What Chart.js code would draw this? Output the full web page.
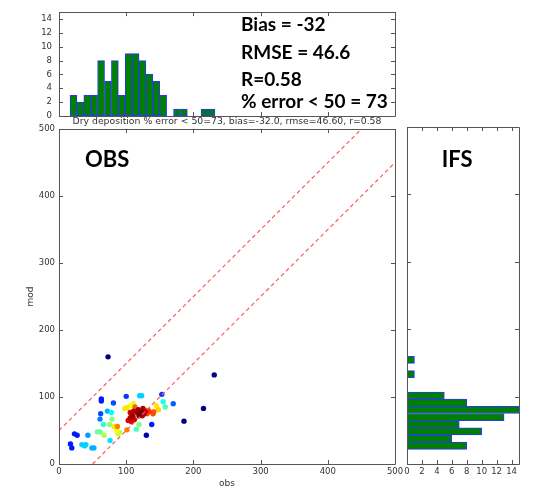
<!DOCTYPE html>
<html>
<head>
<meta charset="utf-8">
<script src="https://cdn.jsdelivr.net/npm/chart.js@4.4.1/dist/chart.umd.min.js"></script>
<style>
  html, body { margin: 0; padding: 0; background: #fff; }
  body { width: 539px; height: 493px; position: relative; overflow: hidden; }
  canvas { position: absolute; }
  #top  { left: 0; top: 0; }
  #main { left: 0; top: 120px; }
  #side { left: 400px; top: 120px; }
</style>
</head>
<body>
<canvas id="top" width="454" height="130"></canvas>
<canvas id="main" width="454" height="373"></canvas>
<canvas id="side" width="139" height="373"></canvas>
<script>
// Station values: observed vs modelled dry deposition, with point density (0..1)
const obs = [73, 231, 215, 186, 130, 100, 120, 123, 153, 170, 155, 158, 63, 63, 81, 62, 61, 72, 78, 79,
             66, 75, 82, 87, 57, 61, 67, 86, 88, 90, 101, 115, 119, 76, 23, 27, 43, 34, 38, 40,
             49, 52, 17, 19, 145, 148, 141, 133, 131, 140, 98, 101, 106, 111, 113, 106, 108, 111, 116, 118,
             121, 123, 125, 127, 124, 119, 110, 106, 103, 108, 112, 129, 134, 138];
const mod = [160, 133, 83, 64, 43, 101, 102, 102, 104, 90, 93, 85, 97, 94, 91, 75, 67, 79, 77, 67,
             59, 59, 56, 56, 48, 48, 43, 50, 45, 47, 51, 52, 59, 35, 45, 43, 43, 29, 27, 29,
             24, 24, 30, 24, 87, 81, 78, 80, 75, 75, 83, 84, 87, 90, 85, 77, 75, 79, 77, 81,
             75, 78, 83, 75, 72, 72, 71, 69, 65, 63, 66, 79, 78, 59];
const density = [0.0, 0.0, 0.0, 0.0, 0.05, 0.18, 0.33, 0.33, 0.18, 0.22, 0.4, 0.45, 0.15, 0.15, 0.2, 0.2, 0.25, 0.3, 0.38, 0.5,
                 0.42, 0.52, 0.65, 0.75, 0.48, 0.48, 0.55, 0.62, 0.58, 0.55, 0.75, 0.45, 0.5, 0.35, 0.15, 0.15, 0.28, 0.33, 0.33, 0.33,
                 0.3, 0.3, 0.15, 0.15, 0.65, 0.67, 0.78, 0.8, 0.8, 0.8, 0.65, 0.65, 0.62, 0.6, 0.78, 0.92, 0.95, 0.95, 0.97, 0.97,
                 1.0, 1.0, 0.95, 0.95, 0.95, 1.0, 0.97, 0.95, 0.9, 0.9, 0.92, 0.92, 0.82, 0.15];

// Histogram of obs (top panel)
const obsBinStart = 16.4;
const obsBinWidth = 10.27;
const obsCounts = [3, 2, 3, 3, 8, 5, 8, 3, 9, 9, 8, 6, 5, 3, 0, 1, 1, 0, 0, 1, 1];

// Histogram of mod (side panel)
const modBinStart = 21.8;
const modBinWidth = 10.62;
const modCounts = [8, 6, 10, 7, 13, 15, 8, 5, 0, 0, 1, 0, 1];

// Axis ranges and ticks
const valueRange = [0, 500];
const valueStep = 100;
const countRange = [0, 15];
const countStep = 2;

// +/- 50 error envelope
const errorBand = 50;

// Text
const titleText = 'Dry deposition % error < 50=73, bias=-32.0, rmse=46.60, r=0.58';
const statLines = ['Bias = -32', 'RMSE = 46.6', 'R=0.58', '% error < 50 = 73'];
const obsName = 'OBS';
const modName = 'IFS';

Chart.defaults.font.family = "'DejaVu Sans', sans-serif";
Chart.defaults.color = '#333';
Chart.defaults.borderColor = 'rgba(0,0,0,0)';
Chart.defaults.animation = false;

const TICK_FONT = { size: 8.5 };
const LABEL_FONT = { size: 9 };
const BAR_GREEN = '#008000';
const BAR_EDGE = '#2a35ff';
const FRAME = '#555';

function jet(v) {
  const c = x => Math.max(0, Math.min(1, x));
  const r = c(1.5 - Math.abs(4 * v - 3));
  const g = c(1.5 - Math.abs(4 * v - 2));
  const b = c(1.5 - Math.abs(4 * v - 1));
  return `rgb(${Math.round(r * 255)},${Math.round(g * 255)},${Math.round(b * 255)})`;
}

// Frame around the plot area with inward tick marks on all four sides
const frameTicks = {
  id: 'frameTicks',
  afterDatasetsDraw(chart) {
    const { ctx, chartArea: a, scales } = chart;
    const L = 4;
    ctx.save();
    ctx.setLineDash([]);
    ctx.strokeStyle = FRAME;
    ctx.lineWidth = 1;
    ctx.beginPath();
    scales.x.ticks.forEach(t => {
      const px = Math.round(scales.x.getPixelForValue(t.value)) + 0.5;
      ctx.moveTo(px, a.bottom); ctx.lineTo(px, a.bottom - L);
      ctx.moveTo(px, a.top); ctx.lineTo(px, a.top + L);
    });
    scales.y.ticks.forEach(t => {
      const py = Math.round(scales.y.getPixelForValue(t.value)) + 0.5;
      ctx.moveTo(a.left, py); ctx.lineTo(a.left + L, py);
      ctx.moveTo(a.right, py); ctx.lineTo(a.right - L, py);
    });
    ctx.stroke();
    ctx.beginPath();
    ctx.rect(Math.round(a.left) + 0.5, Math.round(a.top) + 0.5,
             Math.round(a.right - a.left), Math.round(a.bottom - a.top));
    ctx.stroke();
    ctx.restore();
  }
};

// Title under the obs histogram and the summary statistics inside it
const topText = {
  id: 'topText',
  afterDraw(chart) {
    const { ctx, chartArea: a } = chart;
    ctx.save();
    ctx.fillStyle = '#333';
    ctx.font = "9.3px 'DejaVu Sans', sans-serif";
    ctx.textAlign = 'center';
    ctx.textBaseline = 'middle';
    ctx.fillText(titleText, (a.left + a.right) / 2, a.bottom + 5.5);
    ctx.fillStyle = '#000';
    ctx.font = "bold 19px Lato, sans-serif";
    ctx.textAlign = 'left';
    ctx.textBaseline = 'alphabetic';
    const baselines = [31, 58.7, 86, 108.3];
    statLines.forEach((s, i) => ctx.fillText(s, 241, baselines[i]));
    ctx.restore();
  }
};

function panelName(text, x, y) {
  return {
    id: 'panelName',
    afterDraw(chart) {
      const { ctx } = chart;
      ctx.save();
      ctx.fillStyle = '#000';
      ctx.font = "bold 22px Lato, sans-serif";
      ctx.textAlign = 'left';
      ctx.textBaseline = 'alphabetic';
      ctx.fillText(text, x, y);
      ctx.restore();
    }
  };
}

const noGrid = { display: false, drawTicks: false, drawOnChartArea: false };
const noBorder = { display: false };

// ---- top panel: histogram of obs ----
const obsBars = obsCounts
  .map((c, i) => ({ x: obsBinStart + (i + 0.5) * obsBinWidth, y: c }))
  .filter(p => p.y > 0);

new Chart(document.getElementById('top'), {
  type: 'bar',
  data: {
    datasets: [{
      data: obsBars,
      backgroundColor: BAR_GREEN,
      borderColor: BAR_EDGE,
      borderWidth: 1,
      borderSkipped: false,
      barPercentage: 1,
      categoryPercentage: 1
    }]
  },
  options: {
    responsive: false,
    layout: { padding: { top: 4, right: 59, left: 0, bottom: 0 } },
    plugins: { legend: { display: false }, tooltip: { enabled: false } },
    scales: {
      x: {
        type: 'linear', offset: false, min: valueRange[0], max: valueRange[1],
        ticks: { display: false, stepSize: valueStep },
        grid: noGrid, border: noBorder,
        afterFit: s => { s.height = 14; }
      },
      y: {
        type: 'linear', min: countRange[0], max: countRange[1],
        ticks: { stepSize: countStep, includeBounds: false, padding: 7, font: TICK_FONT },
        grid: noGrid, border: noBorder,
        afterFit: s => { s.width = 59; }
      }
    }
  },
  plugins: [frameTicks, topText]
});

// ---- main panel: scatter of mod vs obs ----
const order = obs.map((_, i) => i).sort((p, q) => density[p] - density[q]);
const points = order.map(i => ({ x: obs[i], y: mod[i] }));
const pointColors = order.map(i => jet(density[i]));

const upperLine = [{ x: valueRange[0], y: valueRange[0] + errorBand }, { x: valueRange[1] - errorBand, y: valueRange[1] }];
const lowerLine = [{ x: valueRange[0] + errorBand, y: valueRange[0] }, { x: valueRange[1], y: valueRange[1] - errorBand }];

const dashStyle = {
  type: 'line', pointRadius: 0, borderWidth: 1.2, tension: 0,
  borderColor: '#ff5c5c', borderDash: [4, 3], fill: false
};

new Chart(document.getElementById('main'), {
  type: 'scatter',
  data: {
    datasets: [
      Object.assign({ data: upperLine }, dashStyle),
      Object.assign({ data: lowerLine }, dashStyle),
      { type: 'scatter', data: points, showLine: false, pointRadius: 2.7, pointBorderWidth: 0,
        pointBorderColor: 'rgba(0,0,0,0)', pointBackgroundColor: pointColors }
    ]
  },
  options: {
    responsive: false,
    layout: { padding: { top: 7, right: 59, left: 0, bottom: 0 } },
    plugins: { legend: { display: false }, tooltip: { enabled: false } },
    scales: {
      x: {
        type: 'linear', min: valueRange[0], max: valueRange[1],
        ticks: { stepSize: valueStep, padding: 3, font: TICK_FONT },
        grid: noGrid, border: noBorder,
        title: { display: true, text: 'obs', font: LABEL_FONT, padding: { top: 0, bottom: 3.6 } },
        afterFit: s => { s.height = 29; }
      },
      y: {
        type: 'linear', min: valueRange[0], max: valueRange[1],
        ticks: { stepSize: valueStep, padding: 4, font: TICK_FONT },
        grid: noGrid, border: noBorder,
        title: { display: true, text: 'mod', font: LABEL_FONT, padding: { top: 25.6, bottom: 0 } },
        afterFit: s => { s.width = 59; }
      }
    }
  },
  plugins: [frameTicks, panelName(obsName, 85, 47.3)]
});

// ---- side panel: histogram of mod ----
const modBars = modCounts
  .map((c, i) => ({ y: modBinStart + (i + 0.5) * modBinWidth, x: c }))
  .filter(p => p.x > 0);

new Chart(document.getElementById('side'), {
  type: 'bar',
  data: {
    datasets: [{
      data: modBars,
      backgroundColor: BAR_GREEN,
      borderColor: BAR_EDGE,
      borderWidth: 1,
      borderSkipped: false,
      barPercentage: 1,
      categoryPercentage: 1
    }]
  },
  options: {
    responsive: false,
    indexAxis: 'y',
    layout: { padding: { top: 7, right: 20, left: 0, bottom: 0 } },
    plugins: { legend: { display: false }, tooltip: { enabled: false } },
    scales: {
      y: {
        type: 'linear', offset: false, min: valueRange[0], max: valueRange[1],
        ticks: { display: false, stepSize: valueStep },
        grid: noGrid, border: noBorder,
        afterFit: s => { s.width = 7; }
      },
      x: {
        type: 'linear', min: countRange[0], max: countRange[1],
        ticks: { stepSize: countStep, includeBounds: false, padding: 3, font: TICK_FONT,
                 autoSkip: false, maxRotation: 0, minRotation: 0 },
        grid: noGrid, border: noBorder,
        afterFit: s => { s.height = 29; }
      }
    }
  },
  plugins: [frameTicks, panelName(modName, 41.7, 47.3)]
});
</script>
</body>
</html>
